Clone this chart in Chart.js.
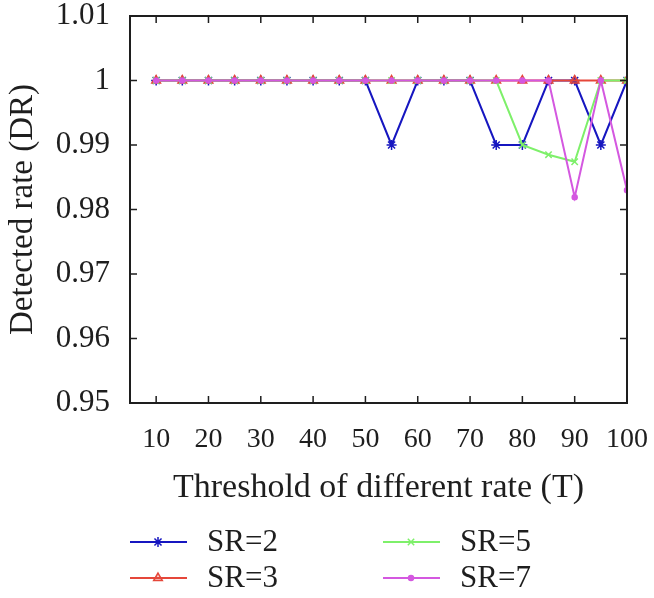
<!DOCTYPE html>
<html>
<head>
<meta charset="utf-8">
<script src="https://cdn.jsdelivr.net/npm/chart.js@4/dist/chart.umd.min.js"></script>
<style>
  html, body { margin: 0; padding: 0; background: #fff; }
  #wrap { width: 654px; height: 598px; }
</style>
</head>
<body>
<div id="wrap"><canvas id="chart" width="654" height="598"></canvas></div>
<script>
const thresholds = [10, 15, 20, 25, 30, 35, 40, 45, 50, 55, 60, 65, 70, 75, 80, 85, 90, 95, 100];
const sr2 = [1, 1, 1, 1, 1, 1, 1, 1, 1, 0.99, 1, 1, 1, 0.99, 0.99, 1, 1, 0.99, 1];
const sr3 = [1, 1, 1, 1, 1, 1, 1, 1, 1, 1, 1, 1, 1, 1, 1, 1, 1, 1, 1];
const sr5 = [1, 1, 1, 1, 1, 1, 1, 1, 1, 1, 1, 1, 1, 1, 0.99, 0.9885, 0.9874, 1, 1];
const sr7 = [1, 1, 1, 1, 1, 1, 1, 1, 1, 1, 1, 1, 1, 1, 1, 1, 0.9819, 1, 0.983];
const xTicks = [10, 20, 30, 40, 50, 60, 70, 80, 90, 100];
const yTicks = [0.95, 0.96, 0.97, 0.98, 0.99, 1, 1.01];

const FONT = "'Liberation Serif', 'DejaVu Serif', serif";
const INK = '#1e1e1e';

// lower order is drawn on top, so SR=7 ends up over the others like in the original
function series(label, values, color, style, radius, fill, order) {
  return {
    label: label,
    data: values.map((v, i) => ({ x: thresholds[i], y: v })),
    borderColor: color,
    backgroundColor: fill,
    pointBorderColor: color,
    pointBackgroundColor: fill,
    pointStyle: style,
    pointRadius: radius,
    pointBorderWidth: 1.5,
    borderWidth: 2,
    tension: 0,
    order: order
  };
}

// frame with inward ticks on all four sides, and the legend below
const framePlugin = {
  id: 'frame',
  afterDraw(chart) {
    const ctx = chart.ctx;
    const a = chart.chartArea;
    const xs = chart.scales.x, ys = chart.scales.y;
    ctx.save();
    ctx.strokeStyle = INK;
    ctx.lineWidth = 2;
    ctx.strokeRect(a.left, a.top, a.right - a.left, a.bottom - a.top);
    ctx.lineWidth = 1.5;
    ctx.beginPath();
    xTicks.forEach(v => {
      const px = xs.getPixelForValue(v);
      ctx.moveTo(px, a.bottom); ctx.lineTo(px, a.bottom - 7);
      ctx.moveTo(px, a.top); ctx.lineTo(px, a.top + 7);
    });
    yTicks.forEach(v => {
      const py = ys.getPixelForValue(v);
      ctx.moveTo(a.left, py); ctx.lineTo(a.left + 7, py);
      ctx.moveTo(a.right, py); ctx.lineTo(a.right - 7, py);
    });
    ctx.stroke();

    // legend
    const cols = [130, 383];
    const rows = [542, 578];
    chart.data.datasets.forEach((ds, i) => {
      const x0 = cols[Math.floor(i / 2)];
      const y0 = rows[i % 2];
      ctx.strokeStyle = ds.borderColor;
      ctx.lineWidth = 2;
      ctx.beginPath();
      ctx.moveTo(x0, y0); ctx.lineTo(x0 + 57, y0);
      ctx.stroke();
      ctx.fillStyle = ds.pointBackgroundColor;
      ctx.strokeStyle = ds.pointBorderColor;
      ctx.lineWidth = 1.5;
      Chart.helpers.drawPoint(ctx, {
        pointStyle: ds.pointStyle, radius: ds.pointRadius, rotation: 0, borderWidth: 1.5
      }, x0 + 28, y0);
      ctx.fillStyle = INK;
      ctx.font = '31px ' + FONT;
      ctx.textBaseline = 'middle';
      ctx.textAlign = 'left';
      ctx.fillText(ds.label, x0 + 77, y0 + 1);
    });
    ctx.restore();
  }
};

new Chart(document.getElementById('chart'), {
  type: 'line',
  data: {
    datasets: [
      series('SR=2', sr2, '#1616c0', 'star', 5, '#1616c0', 3),
      series('SR=3', sr3, '#e5473a', 'triangle', 5, 'rgba(229,71,58,0.25)', 2),
      series('SR=5', sr5, '#7ef06a', 'crossRot', 4.5, '#7ef06a', 1),
      series('SR=7', sr7, '#d458e0', 'circle', 2.5, '#d458e0', 0)
    ]
  },
  options: {
    responsive: false,
    animation: false,
    layout: { padding: { left: 0, right: 27, top: 16, bottom: 85 } },
    plugins: { legend: { display: false }, tooltip: { enabled: false } },
    scales: {
      x: {
        type: 'linear',
        min: 5,
        max: 100,
        grid: { display: false, drawTicks: false },
        border: { display: false },
        afterBuildTicks: s => { s.ticks = xTicks.map(v => ({ value: v })); },
        afterFit: s => {
          s.height = 110;
          s.paddingLeft = 0; s.paddingRight = 0; s.paddingTop = 0; s.paddingBottom = 0;
        },
        ticks: {
          color: INK,
          padding: 20,
          maxRotation: 0,
          font: { family: FONT, size: 28 },
          callback: v => String(v)
        },
        title: {
          display: true,
          text: 'Threshold of different rate (T)',
          color: INK,
          font: { family: FONT, size: 34 },
          padding: { top: 0, bottom: 5 }
        }
      },
      y: {
        min: 0.95,
        max: 1.01,
        grid: { display: false, drawTicks: false },
        border: { display: false },
        afterBuildTicks: s => { s.ticks = yTicks.map(v => ({ value: v })); },
        afterFit: s => {
          s.width = 130;
          s.paddingLeft = 0; s.paddingRight = 0; s.paddingTop = 0; s.paddingBottom = 0;
        },
        ticks: {
          color: INK,
          padding: 20,
          font: { family: FONT, size: 31 },
          callback: v => String(parseFloat(v.toFixed(2)))
        },
        title: {
          display: true,
          text: 'Detected rate (DR)',
          color: INK,
          font: { family: FONT, size: 33 },
          padding: { top: 4, bottom: 0 }
        }
      }
    }
  },
  plugins: [framePlugin]
});
</script>
</body>
</html>
